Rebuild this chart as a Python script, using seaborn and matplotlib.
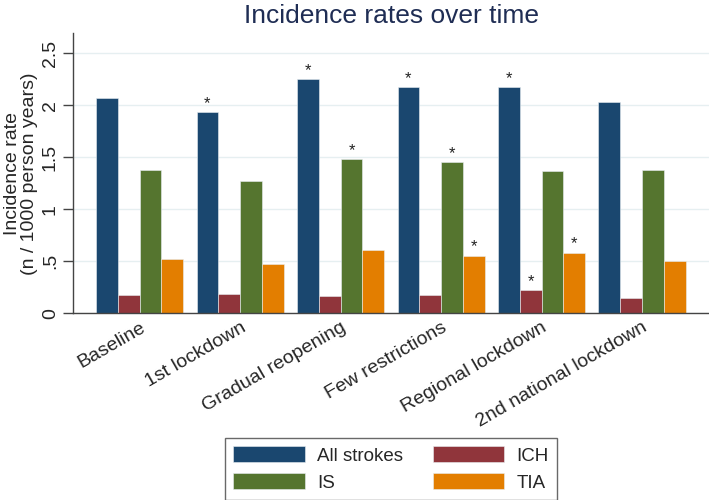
import matplotlib
matplotlib.use('Agg')
import matplotlib.pyplot as plt
import pandas as pd
import numpy as np
import seaborn as sns

# data
periods = ['Baseline', '1st lockdown', 'Gradual reopening', 'Few restrictions',
           'Regional lockdown', '2nd national lockdown']
all_strokes = [2.07, 1.93, 2.25, 2.17, 2.17, 2.03]
ich = [0.176, 0.186, 0.166, 0.173, 0.221, 0.150]
is_rate = [1.38, 1.27, 1.48, 1.45, 1.37, 1.38]
tia = [0.522, 0.471, 0.609, 0.551, 0.580, 0.503]

# significance markers (*) per series
sig_all = [0, 1, 1, 1, 1, 0]
sig_ich = [0, 0, 0, 0, 1, 0]
sig_is = [0, 0, 1, 1, 0, 0]
sig_tia = [0, 0, 0, 1, 1, 0]

series = ['All strokes', 'ICH', 'IS', 'TIA']
colors = ['#1a476f', '#90353b', '#55752f', '#e37e00']

df = pd.DataFrame({
    'period': periods * 4,
    'type': np.repeat(series, len(periods)),
    'rate': all_strokes + ich + is_rate + tia,
})
sig = [sig_all, sig_ich, sig_is, sig_tia]

sns.set_style('white')
plt.rcParams['font.family'] = ['Liberation Sans', 'DejaVu Sans']

fig = plt.figure(figsize=(7.09, 5.0), dpi=100)
ax = fig.add_axes([0.1025, 0.3734, 0.8975, 0.56])

sns.barplot(data=df, x='period', y='rate', hue='type', order=periods,
            hue_order=series, palette=colors, width=0.867, saturation=1,
            edgecolor='#e8eef2', linewidth=0.4, ax=ax, legend=True)

# stars above significant bars
for cont, flags in zip(ax.containers, sig):
    for bar, f in zip(cont, flags):
        if f:
            ax.annotate('*', (bar.get_x() + bar.get_width() / 2, bar.get_height()),
                        xytext=(0, 1), textcoords='offset points',
                        ha='center', va='bottom', fontsize=12, color='#222222')

ax.set_xlim(-0.667, 5.667)
ax.set_ylim(0, 2.69)
ax.set_yticks([0, 0.5, 1, 1.5, 2, 2.5])
ax.set_yticklabels(['0', '.5', '1', '1.5', '2', '2.5'], rotation=90, va='center')
ax.yaxis.grid(True, color='#e6eff1', linewidth=1)
ax.set_axisbelow(True)
ax.tick_params(axis='y', length=7, width=1, color='#444444', labelsize=14, pad=3,
               left=True)
ax.tick_params(axis='x', length=0, labelsize=14, pad=4)
plt.setp(ax.get_xticklabels(), rotation=30, ha='right', rotation_mode='anchor')

for s in ['top', 'right']:
    ax.spines[s].set_visible(False)
for s in ['left', 'bottom']:
    ax.spines[s].set_color('#444444')
    ax.spines[s].set_linewidth(1)

ax.set_xlabel('')
ax.set_ylabel('Incidence rate\n(n / 1000 person years)', fontsize=14, labelpad=3,
              linespacing=0.95)

# legend: 2 columns, row-wise order
handles, labels = ax.get_legend_handles_labels()
ax.get_legend().remove()
order = [0, 2, 1, 3]
leg = fig.legend([handles[i] for i in order], [labels[i] for i in order],
                 loc='center', bbox_to_anchor=(0.5515, 0.062), ncol=2,
                 fontsize=13.5, frameon=True, fancybox=False,
                 handlelength=3.8, handleheight=0.95, handletextpad=0.65,
                 columnspacing=1.6, labelspacing=0.45, borderpad=0.45,
                 edgecolor='#444444')
leg.get_frame().set_linewidth(1)

fig.text(0.5515, 0.954, 'Incidence rates over time', ha='center', va='baseline',
         fontsize=19, color='#1f2d54')

fig.savefig('out.png', dpi=100)
